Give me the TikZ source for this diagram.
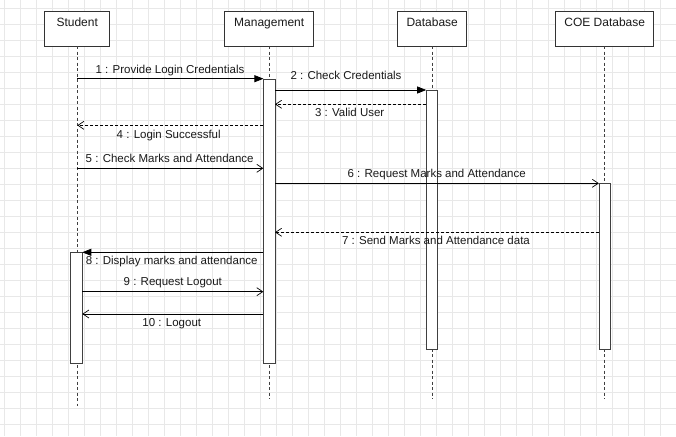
\documentclass[tikz,border=0pt]{standalone}
\usepackage{fontspec}
\setmainfont{Liberation Sans}
\usetikzlibrary{arrows.meta}
\definecolor{gridc}{HTML}{E8E8E8}
\definecolor{txt}{HTML}{1A1A1A}
\tikzset{
  actor/.style={draw=black!80, fill=white, line width=0.8pt, minimum width=#1, minimum height=35.5pt, inner sep=0pt},
  hdr/.style={font=\fontsize{12}{14}\selectfont, text=txt, inner sep=0pt, text height=8.6pt, text depth=0pt},
  lbl/.style={font=\fontsize{11.5}{13}\selectfont, text=txt, inner sep=0pt, text height=8.2pt, text depth=0pt},
  lifeline/.style={draw=black!75, line width=0.8pt, dash pattern=on 3pt off 2.5pt},
  bar/.style={draw=black!75, fill=white, line width=0.8pt, minimum width=11.6pt, inner sep=0pt},
  msg/.style={draw=black, line width=0.7pt, -{Triangle[length=9pt,width=7pt]}},
  omsg/.style={draw=black, line width=0.7pt, -{Straight Barb[length=6pt,width=8pt,line width=0.7pt]}},
  rmsg/.style={omsg, dashed, dash pattern=on 3pt off 2pt},
}
\begin{document}
\begin{tikzpicture}[x=1pt,y=-1pt]
\useasboundingbox (0,0) rectangle (676,436);
\fill[white] (0,0) rectangle (676,436);
% grid
\foreach \gx in {4,20,...,676} \draw[gridc, line width=0.6pt] (\gx,0) -- (\gx,436);
\foreach \gy in {8.7,24.7,...,436} \draw[gridc, line width=0.6pt] (0,\gy) -- (676,\gy);

% actors
\node[actor=65pt, anchor=north west] (stu) at (44.3,10.7) {};
\node[actor=89pt, anchor=north west] (man) at (224.3,10.7) {};
\node[actor=69pt, anchor=north west] (db) at (397.3,10.7) {};
\node[actor=98pt, anchor=north west] (coe) at (555.3,10.7) {};
\node[hdr] (stuT) at (stu.center |- 0,22) {Student};
\node[hdr] (manT) at (man.center |- 0,22) {Management};
\node[hdr] (dbT) at (db.center |- 0,22) {Database};
\node[hdr] (coeT) at (coe.center |- 0,22) {COE Database};

% lifeline ends
\coordinate (stuE) at (77.3,405.7);
\coordinate (manE) at (269.2,399.3);
\coordinate (dbE) at (432,399.3);
\coordinate (coeE) at (604.7,399.3);
\coordinate (stuS) at (77.3,46.2);
\coordinate (manS) at (269.2,46.2);
\coordinate (dbS) at (432,46.2);
\coordinate (coeS) at (604.7,46.2);
\draw[lifeline] (stuS) -- (stuE);
\draw[lifeline] (manS) -- (manE);
\draw[lifeline] (dbS) -- (dbE);
\draw[lifeline] (coeS) -- (coeE);

% activation bars
\node[bar, minimum height=284.6pt, anchor=north] (manB) at (269.2,78.7) {};
\node[bar, minimum height=259.3pt, anchor=north] (dbB) at (432,90) {};
\node[bar, minimum height=166pt, anchor=north] (coeB) at (604.7,183.3) {};
\node[bar, minimum height=111.3pt, anchor=north] (stuB) at (76.5,252) {};

% message endpoints
\coordinate (a1) at (77.3,78.7);   \coordinate (b1) at (263.4,78.7);
\coordinate (a2) at (275,90);      \coordinate (b2) at (426.2,90);
\coordinate (a3) at (426.2,104.3); \coordinate (b3) at (275,104.3);
\coordinate (a4) at (263.4,125.3); \coordinate (b4) at (77.3,125.3);
\coordinate (a5) at (77.3,168.3);  \coordinate (b5) at (263.4,168.3);
\coordinate (a6) at (275,183.3);   \coordinate (b6) at (598.9,183.3);
\coordinate (a7) at (598.9,232.3); \coordinate (b7) at (275,232.3);
\coordinate (a8) at (263.4,252.3); \coordinate (b8) at (82.3,252.3);
\coordinate (a9) at (82.3,291.7);  \coordinate (b9) at (263.4,291.7);
\coordinate (a10) at (263.4,314);  \coordinate (b10) at (82.3,314);

\draw[msg] (a1) -- (b1);
\draw[msg] (a2) -- (b2);
\draw[rmsg] (a3) -- (b3);
\draw[rmsg] (a4) -- (b4);
\draw[omsg] (a5) -- (b5);
\draw[omsg] (a6) -- (b6);
\draw[rmsg] (a7) -- (b7);
\draw[msg] (a8) -- (b8);
\draw[omsg] (a9) -- (b9);
\draw[omsg] (a10) -- (b10);

% labels
\node[lbl] (l1) at (170,69) {1 : Provide Login Credentials};
\node[lbl] (l2) at (346,75) {2 : Check Credentials};
\node[lbl] (l3) at (349.7,112.3) {3 : Valid User};
\node[lbl] (l4) at (168.7,134) {4 : Login Successful};
\node[lbl] (l5) at (169.7,158.7) {5 : Check Marks and Attendance};
\node[lbl] (l6) at (436.7,173.5) {6 : Request Marks and Attendance};
\node[lbl] (l7) at (436,240.8) {7 : Send Marks and Attendance data};
\node[lbl] (l8) at (171.7,260) {8 : Display marks and attendance};
\node[lbl] (l9) at (172.8,281.7) {9 : Request Logout};
\node[lbl] (l10) at (171.8,322.7) {10 : Logout};
\end{tikzpicture}
\end{document}
